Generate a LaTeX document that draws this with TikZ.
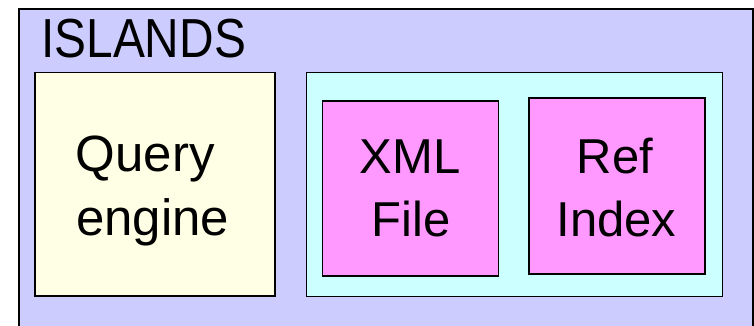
\documentclass[tikz,border=0pt]{standalone}
\usepackage{fontspec}
\setmainfont{Liberation Sans}
\usepackage{graphicx}
\definecolor{outerc}{HTML}{CCCCFF}
\definecolor{queryc}{HTML}{FFFFE5}
\definecolor{cyanc}{HTML}{CCFFFF}
\definecolor{pinkc}{HTML}{FF99FF}
\tikzset{
  box/.style={draw=black, line width=1.8pt, rectangle, inner sep=0pt, anchor=north west},
  txt/.style={inner sep=0pt, font=\fontsize{50}{60}\selectfont},
}
\begin{document}
\begin{tikzpicture}[x=1pt,y=-1pt]
\useasboundingbox (0,0) rectangle (754,325);
\node[box, fill=outerc, minimum width=734pt, minimum height=340pt] (islands) at (18,8) {};
\node[inner sep=0pt, anchor=base west, font=\fontsize{55}{66}\selectfont] (title) at (41,57.7) {\scalebox{0.87}[1]{ISLANDS}};
\node[box, fill=queryc, minimum width=240pt, minimum height=223.5pt] (query) at (34,71.5) {};
\node[box, fill=cyanc, minimum width=416pt, minimum height=224pt] (store) at (305.5,71.5) {};
\node[box, fill=pinkc, minimum width=176pt, minimum height=175.5pt] (xml) at (321.5,99.7) {};
\node[box, fill=pinkc, minimum width=176pt, minimum height=176pt] (ref) at (527.7,97.3) {};
\node[txt, anchor=base west, font=\fontsize{51}{60}\selectfont] (q1) at (75.5,171.7) {Query};
\node[txt, anchor=base west, font=\fontsize{51}{60}\selectfont] (q2) at (76,235) {engine};
\node[txt, anchor=base, font=\fontsize{49}{60}\selectfont] (x1) at (410,173.3) {XML};
\node[txt, anchor=base, font=\fontsize{49}{60}\selectfont] (x2) at (411,236.7) {File};
\node[txt, anchor=base, font=\fontsize{49}{60}\selectfont] (r1) at (615,173.3) {Ref};
\node[txt, anchor=base, font=\fontsize{49}{60}\selectfont] (r2) at (616.5,236.7) {Index};
\end{tikzpicture}
\end{document}
